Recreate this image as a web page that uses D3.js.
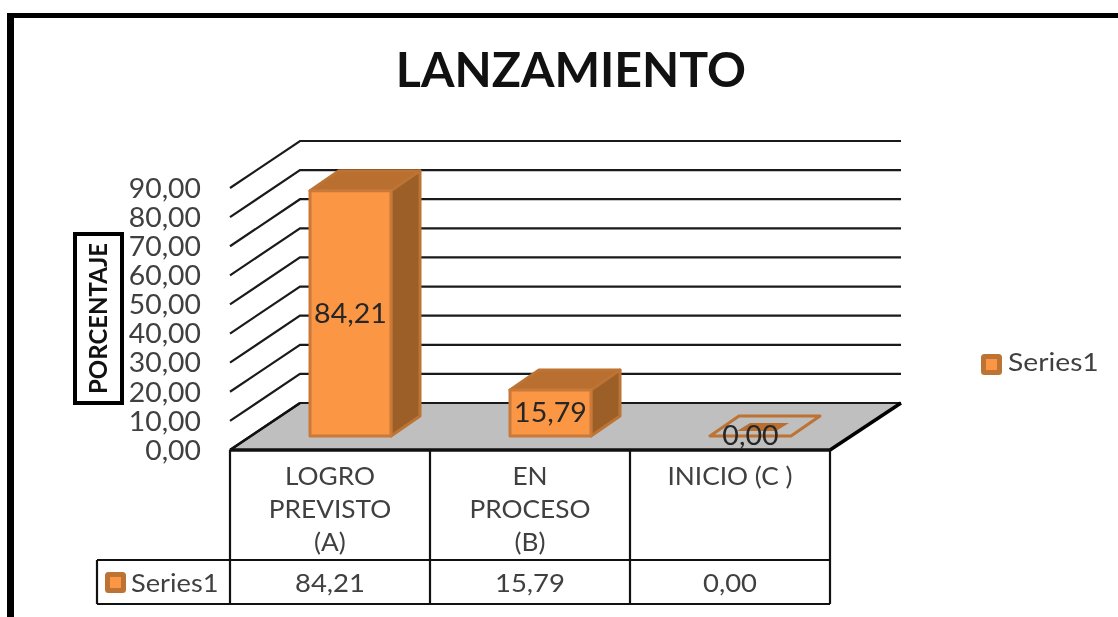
<!DOCTYPE html>
<html>
<head>
<meta charset="utf-8">
<style>
  body { margin: 0; background: #fff; }
  svg { display: block; filter: blur(0.5px); }
  text { font-family: Lato, "Open Sans", sans-serif; fill: #404040; }
  .axis path, .axis line { display: none; }
</style>
</head>
<body>
<script src="https://cdn.jsdelivr.net/npm/d3@7"></script>
<script>
var categories = [["LOGRO", "PREVISTO", "(A)"], ["EN", "PROCESO", "(B)"], ["INICIO (C )"]];
var values = [84.21, 15.79, 0];
var yTicks = [0, 10, 20, 30, 40, 50, 60, 70, 80, 90];
var seriesName = "Series1";
var title = "LANZAMIENTO";
var yLabel = "PORCENTAJE";

var width = 1118, height = 617;
var wallDx = 70, wallDy = -47;   // depth of the 3d box
var barDx = 29, barDy = -20;     // depth of each bar
var baseLift = 14;               // bars stand a bit behind the front edge

var comma = d3.formatLocale({decimal: ",", thousands: ".", grouping: [3], currency: ["", ""]}).format(".2f");

var x = d3.scaleBand().domain(d3.range(categories.length)).range([230, 830]);
var y = d3.scaleLinear().domain([0, 90]).range([450, 188]);

var svg = d3.select("body").append("svg").attr("width", width).attr("height", height);

// the labels in the picture are wider than Lato, stretch them to fit
function stretch(sel, k) {
  sel.each(function() {
    var len = this.getComputedTextLength();
    d3.select(this).attr("textLength", len * k).attr("lengthAdjust", "spacingAndGlyphs");
  });
}

// outer frame, only left and top are in the picture
svg.append("path")
    .attr("d", "M10.5,617V13")
    .attr("fill", "none").attr("stroke", "#000").attr("stroke-width", 7);
svg.append("path")
    .attr("d", "M7,15.5H1118")
    .attr("fill", "none").attr("stroke", "#000").attr("stroke-width", 5);

svg.append("text")
    .attr("x", 571).attr("y", 87)
    .attr("text-anchor", "middle")
    .style("font-size", "47px").style("font-weight", 700).style("fill", "#111")
    .text(title)
    .call(stretch, 1.027);

// floor
var x0 = x.range()[0], x1 = x.range()[1];
svg.append("polygon")
    .attr("points", [[x0, y(0)], [x1, y(0)], [x1 + wallDx + 1, y(0) + wallDy], [x0 + wallDx, y(0) + wallDy]].join(" "))
    .attr("fill", "#bfbfbf");

// gridlines on side wall and back wall
svg.append("g").selectAll("path")
    .data(yTicks)
    .enter().append("path")
    .attr("d", function(d) {
      return "M" + x0 + "," + y(d) + "L" + (x0 + wallDx) + "," + (y(d) + wallDy) + "H" + (x1 + wallDx + 1);
    })
    .attr("fill", "none").attr("stroke", "#1a1a1a").attr("stroke-width", 2.2);

// thick edges of floor
svg.append("path")
    .attr("d", "M" + x0 + "," + y(0) + "L" + (x0 + wallDx) + "," + (y(0) + wallDy))
    .attr("fill", "none").attr("stroke", "#111").attr("stroke-width", 2.5);
svg.append("path")
    .attr("d", "M" + x1 + "," + y(0) + "L" + (x1 + wallDx + 1) + "," + (y(0) + wallDy))
    .attr("fill", "none").attr("stroke", "#000").attr("stroke-width", 3.5);

// bars
var barW = x.bandwidth() * 0.405;
var bars = svg.append("g").selectAll("g")
    .data(values)
    .enter().append("g")
    .attr("stroke-linejoin", "round");

function barLeft(i) { return x(i) + 80; }
function barBase() { return y(0) - baseLift; }
function barTop(d) { return y(d) - baseLift; }

bars.each(function(d, i) {
  var g = d3.select(this), l = barLeft(i), r = l + barW, t = barTop(d), b = barBase();
  if (d === 0) {
    // empty bar leaves only an outline on the floor
    g.append("polygon")
      .attr("points", [[l, b], [r, b], [r + barDx, b + barDy], [l + barDx, b + barDy]].join(" "))
      .attr("fill", "none").attr("stroke", "#bc7333").attr("stroke-width", 3);
    g.append("polygon")
      .attr("points", [[l + 27, b - 5], [r - 15, b - 5], [r - 2, b - 13], [l + 40, b - 13]].join(" "))
      .attr("fill", "#b96f30");
    return;
  }
  g.append("polygon")
    .attr("points", [[l, t], [r, t], [r + barDx, t + barDy], [l + barDx, t + barDy]].join(" "))
    .attr("fill", "#b96f30").attr("stroke", "#bc7333").attr("stroke-width", 3);
  g.append("polygon")
    .attr("points", [[r, t], [r + barDx, t + barDy], [r + barDx, b + barDy], [r, b]].join(" "))
    .attr("fill", "#9c5f28").attr("stroke", "#bc7333").attr("stroke-width", 3);
  g.append("rect")
    .attr("x", l).attr("y", t).attr("width", barW).attr("height", b - t)
    .attr("fill", "#fb9645").attr("stroke", "#c9793a").attr("stroke-width", 3);
});

// data labels
svg.append("g").selectAll("text")
    .data(values)
    .enter().append("text")
    .attr("x", function(d, i) { return barLeft(i) + barW / 2; })
    .attr("y", function(d) { return (barTop(d) + barBase()) / 2; })
    .attr("dy", "0.36em")
    .attr("text-anchor", "middle")
    .style("font-size", "26px").style("fill", "#262626")
    .text(function(d) { return comma(d); })
    .call(stretch, 1.1);

// y axis
svg.append("g")
    .attr("class", "axis")
    .attr("transform", "translate(201,1)")
    .call(d3.axisLeft(y).tickValues(yTicks).tickFormat(comma).tickSize(0).tickPadding(0))
    .call(function(g) {
      g.selectAll("text").style("font-size", "26px").style("font-family", "Lato, sans-serif").style("fill", "#404040")
        .call(stretch, 1.09);
    });

// y axis title in its box
svg.append("rect")
    .attr("x", 75).attr("y", 234).attr("width", 47).attr("height", 169)
    .attr("fill", "#fff").attr("stroke", "#000").attr("stroke-width", 4);
svg.append("text")
    .attr("transform", "translate(98,318.5) rotate(-90)")
    .attr("dy", "0.36em")
    .attr("text-anchor", "middle")
    .style("font-size", "24px").style("font-weight", 700).style("fill", "#111")
    .text(yLabel);

// data table
var tableTop = 450, tableMid = 560, tableBottom = 604, tableLeft = 97;
var tableLines = svg.append("g").attr("stroke", "#111").attr("stroke-width", 2.2).attr("fill", "none");
tableLines.append("path").attr("stroke-width", 3.5)
    .attr("d", "M" + x0 + "," + tableTop + "H" + x1);
tableLines.append("path").attr("d", "M" + tableLeft + "," + tableMid + "H" + x1);
tableLines.append("path").attr("d", "M" + tableLeft + "," + tableBottom + "H" + x1);
tableLines.append("path").attr("d", "M" + tableLeft + "," + tableMid + "V" + tableBottom);
tableLines.selectAll(".sep")
    .data(d3.range(categories.length + 1))
    .enter().append("path")
    .attr("class", "sep")
    .attr("d", function(i) {
      var px = i < categories.length ? x(i) : x1;
      return "M" + px + "," + tableTop + "V" + tableBottom;
    });

var catGroups = svg.append("g").selectAll("g")
    .data(categories)
    .enter().append("g");
catGroups.selectAll("text")
    .data(function(d, i) { return d.map(function(s, j) { return {s: s, i: i, j: j}; }); })
    .enter().append("text")
    .attr("x", function(d) { return x(d.i) + x.bandwidth() / 2; })
    .attr("y", function(d) { return 476 + d.j * 33; })
    .attr("dy", "0.36em")
    .attr("text-anchor", "middle")
    .style("font-size", "25px")
    .text(function(d) { return d.s; })
    .call(stretch, 1.05);

svg.append("g").selectAll("text")
    .data(values)
    .enter().append("text")
    .attr("x", function(d, i) { return x(i) + x.bandwidth() / 2; })
    .attr("y", 583)
    .attr("dy", "0.36em")
    .attr("text-anchor", "middle")
    .style("font-size", "25px")
    .text(function(d) { return comma(d); })
    .call(stretch, 1.1);

// legend keys, in the table and at the right
function legendKey(px, py, size) {
  svg.append("rect")
      .attr("x", px + 2.5).attr("y", py + 2.5).attr("width", size - 5).attr("height", size - 5)
      .attr("rx", 1)
      .attr("fill", "#fb9645").attr("stroke", "#bc7333").attr("stroke-width", 5);
}
legendKey(105, 572, 21);
svg.append("text").attr("x", 131).attr("y", 583).attr("dy", "0.36em")
    .style("font-size", "25px").text(seriesName)
    .call(stretch, 1.09);

legendKey(981, 354, 21);
svg.append("text").attr("x", 1008).attr("y", 362).attr("dy", "0.36em")
    .style("font-size", "25px").text(seriesName)
    .call(stretch, 1.13);
</script>
</body>
</html>
